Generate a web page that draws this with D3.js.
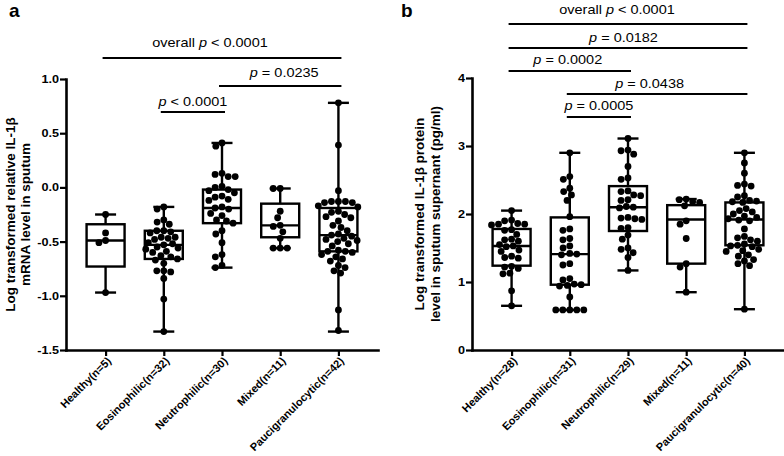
<!DOCTYPE html>
<html><head><meta charset="utf-8">
<script src="https://cdn.jsdelivr.net/npm/d3@7"></script>
<style>
body{margin:0;background:#fff;}
text{font-family:"Liberation Sans",Arial,Helvetica,sans-serif;fill:#000;}
</style>
</head><body>
<svg id="chart" width="784" height="456"></svg>
<script>
// ---------------- DATA ----------------
const categoriesA = ["Healthy(n=5)","Eosinophilic(n=32)","Neutrophilic(n=30)","Mixed(n=11)","Paucigranulocytic(n=42)"];
const categoriesB = ["Healthy(n=28)","Eosinophilic(n=31)","Neutrophilic(n=29)","Mixed(n=11)","Paucigranulocytic(n=40)"];

// panel a: log transformed relative IL-1β mRNA
const mrnaHealthy = [-0.25,-0.42,-0.49,-0.51,-0.97];
const mrnaEosinophilic = [-0.18,-0.20,-0.30,-0.32,-0.34,-0.40,-0.40,-0.41,-0.42,-0.46,-0.46,-0.47,-0.48,-0.51,-0.52,-0.53,-0.55,-0.56,-0.57,-0.59,-0.60,-0.63,-0.64,-0.66,-0.67,-0.70,-0.77,-0.77,-0.78,-0.84,-1.03,-1.33];
const mrnaNeutrophilic = [0.41,0.38,0.13,0.12,0.10,0.10,0.01,0.00,-0.02,-0.03,-0.05,-0.08,-0.09,-0.11,-0.12,-0.18,-0.19,-0.20,-0.24,-0.26,-0.30,-0.31,-0.33,-0.40,-0.43,-0.51,-0.62,-0.64,-0.72,-0.74];
const mrnaMixed = [-0.01,-0.01,-0.22,-0.28,-0.35,-0.36,-0.41,-0.47,-0.56,-0.56,-0.56];
const mrnaPauci = [0.78,0.39,-0.03,-0.13,-0.13,-0.13,-0.14,-0.14,-0.17,-0.18,-0.22,-0.23,-0.25,-0.27,-0.28,-0.31,-0.35,-0.37,-0.40,-0.43,-0.44,-0.45,-0.47,-0.48,-0.49,-0.50,-0.52,-0.54,-0.58,-0.59,-0.59,-0.60,-0.62,-0.64,-0.66,-0.68,-0.72,-0.74,-0.77,-0.79,-1.13,-1.32];
// box statistics (min, q1, median, q3, max) per group, panel a
const boxMinA = [-0.97,-1.33,-0.74,-0.56,-1.33];
const boxQ1A  = [-0.73,-0.66,-0.33,-0.46,-0.59];
const boxMedA = [-0.49,-0.53,-0.19,-0.35,-0.44];
const boxQ3A  = [-0.34,-0.40,-0.02,-0.15,-0.19];
const boxMaxA = [-0.25,-0.18,0.41,-0.01,0.78];
const yTicksA = [-1.5,-1.0,-0.5,0.0,0.5,1.0];

// panel b: log transformed IL-1β protein
const protHealthy = [2.05,1.91,1.90,1.86,1.85,1.85,1.84,1.77,1.76,1.70,1.63,1.62,1.60,1.55,1.53,1.52,1.47,1.45,1.38,1.36,1.35,1.23,1.22,1.20,1.13,1.12,0.87,0.65];
const protEosinophilic = [2.90,2.55,2.51,2.38,2.33,2.28,2.20,1.96,1.78,1.76,1.64,1.62,1.53,1.50,1.42,1.41,1.40,1.27,1.25,1.05,1.03,0.97,0.96,0.95,0.94,0.78,0.59,0.59,0.59,0.59,0.59];
const protNeutrophilic = [3.11,2.94,2.93,2.88,2.70,2.53,2.51,2.34,2.33,2.28,2.27,2.21,2.20,2.11,2.10,2.09,1.95,1.94,1.93,1.92,1.80,1.79,1.69,1.63,1.50,1.48,1.43,1.36,1.17];
const protMixed = [2.22,2.21,2.18,2.17,2.12,1.90,1.85,1.64,1.27,1.22,0.85];
const protPauci = [2.90,2.75,2.60,2.44,2.42,2.41,2.27,2.25,2.20,2.19,2.18,2.17,2.08,2.05,2.03,2.00,1.97,1.95,1.93,1.91,1.90,1.78,1.67,1.65,1.62,1.60,1.56,1.54,1.53,1.52,1.48,1.46,1.45,1.40,1.38,1.33,1.31,1.27,1.24,0.60];
const boxMinB = [0.65,0.59,1.17,0.85,0.60];
const boxQ1B  = [1.24,0.96,1.75,1.27,1.54];
const boxMedB = [1.53,1.41,2.10,1.92,1.92];
const boxQ3B  = [1.78,1.95,2.41,2.13,2.17];
const boxMaxB = [2.05,2.90,3.11,2.22,2.90];
const yTicksB = [0,1,2,3,4];

// significance brackets (group index from/to, label)
const bracketFromA = [0,2,1];
const bracketToA   = [4,4,2];
const bracketTextA = ["overall p < 0.0001","p = 0.0235","p < 0.0001"];
const bracketFromB = [0,0,0,1,1];
const bracketToB   = [4,4,2,4,2];
const bracketTextB = ["overall p < 0.0001","p = 0.0182","p = 0.0002","p = 0.0438","p = 0.0005"];

// ---------------- DRAW ----------------
const svg = d3.select("#chart");
const R = 3.4;

function swarm(vals, yScale, r){
  const pts = vals.map(v=>({v, y:yScale(v)})).sort((a,b)=>a.y-b.y);
  const placed = [];
  const d = 2*r + 0.2;
  pts.forEach(p=>{
    const near = placed.filter(q=>Math.abs(q.y-p.y) < d);
    const cands = [0];
    near.forEach(q=>{
      const dx = Math.sqrt(Math.max(0, d*d - (q.y-p.y)*(q.y-p.y)));
      cands.push(q.x+dx, q.x-dx);
    });
    cands.sort((a,b)=>Math.abs(a)-Math.abs(b) || a-b);
    let chosen = 0;
    for (const c of cands){
      if (near.every(q=>Math.hypot(q.x-c,q.y-p.y) >= d-0.01)){ chosen=c; break; }
    }
    p.x = chosen;
    placed.push(p);
  });
  return placed;
}

function italicP(sel, str){
  const i = str.indexOf("p ");
  const pre = str.slice(0,i), post = str.slice(i+1);
  if (pre) sel.append("tspan").text(pre);
  sel.append("tspan").attr("font-style","italic").text("p");
  sel.append("tspan").text(post);
}

function drawPanel(cfg){
  const g = svg.append("g");
  const x = d3.scalePoint().domain(cfg.categories).range(cfg.xRange).padding(0.68);
  const y = d3.scaleLinear().domain(cfg.yDomain).range(cfg.yRange);

  // axes
  const yAxis = g.append("g").attr("transform",`translate(${cfg.xRange[0]},0)`)
    .call(d3.axisLeft(y).tickValues(cfg.yTicks).tickSize(6).tickSizeOuter(0).tickFormat(cfg.fmt));
  yAxis.select(".domain").attr("stroke-width",2.6).attr("stroke-linecap","square");
  yAxis.selectAll(".tick line").attr("stroke-width",2.2);
  yAxis.selectAll(".tick text").attr("font-size",11).attr("font-weight","bold")
    .attr("x",0).attr("transform","translate(-7,0) scale(1.15,1)");

  const xAxis = g.append("g").attr("transform",`translate(0,${cfg.yRange[0]})`)
    .call(d3.axisBottom(x).tickSize(6).tickSizeOuter(0));
  xAxis.select(".domain").attr("stroke-width",2.6).attr("stroke-linecap","square");
  xAxis.selectAll(".tick line").attr("stroke-width",2.2);
  xAxis.selectAll(".tick text").attr("font-size",11).attr("font-weight","bold")
    .attr("text-anchor","end").attr("x",0).attr("y",0).attr("dy","0.35em")
    .attr("transform","translate(3,9) rotate(-45)");
  g.selectAll(".domain").attr("stroke","#000");

  // boxes
  const bw = 19, cw = 10.5;
  cfg.categories.forEach((c,i)=>{
    const cx = x(c);
    const bg = g.append("g");
    bg.append("line").attr("x1",cx).attr("x2",cx).attr("y1",y(cfg.max[i])).attr("y2",y(cfg.q3[i]))
      .attr("stroke","#000").attr("stroke-width",2.4);
    bg.append("line").attr("x1",cx).attr("x2",cx).attr("y1",y(cfg.q1[i])).attr("y2",y(cfg.min[i]))
      .attr("stroke","#000").attr("stroke-width",2.4);
    [cfg.max[i],cfg.min[i]].forEach(v=>{
      bg.append("line").attr("x1",cx-cw).attr("x2",cx+cw).attr("y1",y(v)).attr("y2",y(v))
        .attr("stroke","#000").attr("stroke-width",2.4);
    });
    bg.append("rect").attr("x",cx-bw).attr("width",2*bw).attr("y",y(cfg.q3[i]))
      .attr("height",y(cfg.q1[i])-y(cfg.q3[i])).attr("fill","#fff").attr("stroke","#000").attr("stroke-width",2.4);
    bg.append("line").attr("x1",cx-bw).attr("x2",cx+bw).attr("y1",y(cfg.med[i])).attr("y2",y(cfg.med[i]))
      .attr("stroke","#000").attr("stroke-width",2.4);
    const pts = swarm(cfg.groups[i], y, R);
    bg.selectAll("circle").data(pts).join("circle")
      .attr("cx",d=>cx+d.x).attr("cy",d=>d.y).attr("r",R).attr("fill","#000");
  });

  // brackets
  cfg.bFrom.forEach((f,k)=>{
    const x1 = x(cfg.categories[f]) - 3, x2 = x(cfg.categories[cfg.bTo[k]]) + 3;
    g.append("line").attr("x1",x1).attr("x2",x2).attr("y1",cfg.bLineY[k]).attr("y2",cfg.bLineY[k])
      .attr("stroke","#000").attr("stroke-width",2.2);
    const tx = (x1+x2)/2 + cfg.bDx[k];
    const t = g.append("text").attr("text-anchor","middle").attr("font-size",12.5)
      .attr("transform",`translate(${tx},${cfg.bTextY[k]}) scale(1.16,1)`);
    italicP(t, cfg.bText[k]);
  });

  // y title
  const cy = (cfg.yRange[0]+cfg.yRange[1])/2;
  cfg.title.forEach((line,k)=>{
    g.append("text").attr("text-anchor","middle").attr("font-weight","bold").attr("font-size",13.5)
      .attr("transform",`translate(${cfg.titleX[k]},${cy}) rotate(-90)`).text(line);
  });

  // panel letter
  g.append("text").attr("x",cfg.letterPos[0]).attr("y",cfg.letterPos[1]).attr("font-weight","bold")
    .attr("font-size",19).text(cfg.letter);
}

const fmtA = v => d3.format(".1f")(v).replace("\u2212","-");
drawPanel({
  categories: categoriesA,
  groups: [mrnaHealthy,mrnaEosinophilic,mrnaNeutrophilic,mrnaMixed,mrnaPauci],
  min: boxMinA, q1: boxQ1A, med: boxMedA, q3: boxQ3A, max: boxMaxA,
  yDomain: [-1.5,1.0], yTicks: yTicksA, fmt: fmtA,
  xRange: [66,378], yRange: [350,79],
  bFrom: bracketFromA, bTo: bracketToA, bText: bracketTextA,
  bLineY: [58,86,112], bTextY: [47,77,106], bDx: [-12,4,0],
  title: ["Log transformed relative IL-1\u03b2","mRNA level in sputum"], titleX: [15,30],
  letter: "a", letterPos: [9,17]
});
drawPanel({
  categories: categoriesB,
  groups: [protHealthy,protEosinophilic,protNeutrophilic,protMixed,protPauci],
  min: boxMinB, q1: boxQ1B, med: boxMedB, q3: boxQ3B, max: boxMaxB,
  yDomain: [0,4], yTicks: yTicksB, fmt: d3.format("d"),
  xRange: [472,784], yRange: [350,78],
  bFrom: bracketFromB, bTo: bracketToB, bText: bracketTextB,
  bLineY: [24,48,71,94,117], bTextY: [14,41.5,64,88,110], bDx: [-11,-4.5,-2,-7.5,0],
  title: ["Log transformed IL-1\u03b2 protein","level in sputum supernant (pg/ml)"], titleX: [424,440],
  letter: "b", letterPos: [401,17]
});
</script>
</body></html>
